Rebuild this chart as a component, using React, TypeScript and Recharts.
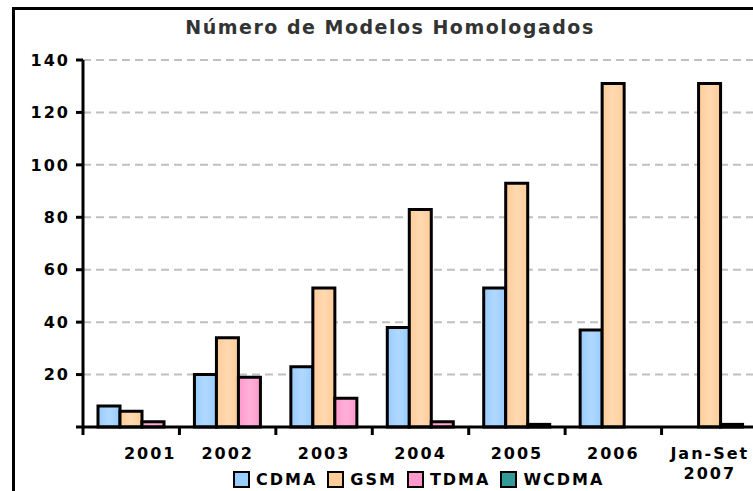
import { BarChart, Bar, XAxis, YAxis, CartesianGrid } from "recharts";

const categories = ["2001", "2002", "2003", "2004", "2005", "2006", "Jan-Set 2007"];
const cdma = [8, 20, 23, 38, 53, 37, 0];
const gsm = [6, 34, 53, 83, 93, 131, 131];
const tdma = [2, 19, 11, 2, 1, 0, 0];
const wcdma = [0, 0, 0, 0, 0, 0, 1];
const yTicks = [0, 20, 40, 60, 80, 100, 120, 140];

const series = [
  { key: "CDMA", color: "#99ccff", light: "#b0d8ff", stack: "a" },
  { key: "GSM", color: "#ffcc99", light: "#ffd9b0", stack: "b" },
  { key: "TDMA", color: "#ff99cc", light: "#ffb0d8", stack: "c" },
  { key: "WCDMA", color: "#339999", light: "#44aaaa", stack: "c" },
];

const data = categories.map((name, i) => ({
  name,
  CDMA: cdma[i],
  GSM: gsm[i],
  TDMA: tdma[i],
  WCDMA: wcdma[i],
}));

const W = 780;
const H = 491;
const M = { top: 60, right: 22, bottom: 24, left: 0 };
const Y_W = 83;
const BAND = (W - M.right - M.left - Y_W) / categories.length;
const FONT = "'DejaVu Sans', Verdana, sans-serif";

function XTick(props: any) {
  const { x, y, payload, index } = props;
  const lines = String(payload.value).split(" ");
  const shift = index === 0 ? 19 : 0;
  return (
    <g>
      <line
        x1={x - BAND / 2}
        x2={x - BAND / 2}
        y1={y - 10}
        y2={y - 2}
        stroke="#000"
        strokeWidth={3}
      />
      <text
        x={x + shift}
        y={y + 22}
        textAnchor="middle"
        fontFamily={FONT}
        fontWeight="bold"
        fontSize={16}
        letterSpacing={2}
        fill="#000"
      >
        {lines.map((l, i) => (
          <tspan key={i} x={x + shift} dy={i === 0 ? 0 : 20}>
            {l}
          </tspan>
        ))}
      </text>
    </g>
  );
}

function YTick(props: any) {
  const { x, y, payload } = props;
  if (payload.value === 0) return <g />;
  return (
    <text
      x={x - 4}
      y={y}
      dy="0.36em"
      textAnchor="end"
      fontFamily={FONT}
      fontWeight="bold"
      fontSize={16}
      letterSpacing={2}
      fill="#000"
    >
      {payload.value}
    </text>
  );
}

export default function App() {
  return (
    <div
      style={{
        position: "fixed",
        inset: 0,
        overflow: "hidden",
        background: "#fff",
        fontFamily: FONT,
      }}
    >
      <div
        style={{
          position: "absolute",
          left: 12,
          top: 7,
          width: 900,
          height: 900,
          borderLeft: "3px solid #000",
          borderTop: "3px solid #000",
        }}
      />
      <div
        style={{
          position: "absolute",
          left: 140,
          width: 500,
          top: 16,
          textAlign: "center",
          fontWeight: "bold",
          fontSize: 19,
          letterSpacing: 1.5,
          color: "#333",
          whiteSpace: "nowrap",
        }}
      >
        Número de Modelos Homologados
      </div>
      <div style={{ position: "absolute", left: 0, top: 0 }}>
        <BarChart width={W} height={H} data={data} margin={M} barGap={0} barCategoryGap={0}>
          <defs>
            {series.map((s) => (
              <linearGradient key={s.key} id={"g" + s.key} x1="0" y1="0" x2="1" y2="0">
                <stop offset="0%" stopColor={s.color} />
                <stop offset="50%" stopColor={s.light} />
                <stop offset="100%" stopColor={s.color} />
              </linearGradient>
            ))}
          </defs>
          <CartesianGrid
            vertical={false}
            stroke="#c0c0c0"
            strokeWidth={2}
            strokeDasharray="8 5"
          />
          <XAxis
            dataKey="name"
            interval={0}
            height={40}
            tickSize={8}
            tickLine={false}
            axisLine={{ stroke: "#000", strokeWidth: 3 }}
            tick={<XTick />}
          />
          <YAxis
            width={Y_W}
            domain={[0, 140]}
            ticks={yTicks}
            tickSize={7}
            axisLine={{ stroke: "#000", strokeWidth: 3 }}
            tickLine={{ stroke: "#000", strokeWidth: 3 }}
            tick={<YTick />}
          />
          {series.map((s) => (
            <Bar
              key={s.key}
              dataKey={s.key}
              stackId={s.stack}
              barSize={22}
              fill={"url(#g" + s.key + ")"}
              stroke="#000"
              strokeWidth={3}
              isAnimationActive={false}
            />
          ))}
        </BarChart>
      </div>
      <div
        style={{
          position: "absolute",
          left: 233,
          top: 471,
          display: "flex",
          alignItems: "center",
          gap: 10,
          fontWeight: "bold",
          fontSize: 16,
          letterSpacing: 2,
          lineHeight: "17px",
          color: "#000",
        }}
      >
        {series.map((s) => (
          <div key={s.key} style={{ display: "flex", alignItems: "center" }}>
            <div
              style={{
                width: 13,
                height: 13,
                border: "2px solid #000",
                background: s.color,
                marginRight: 6,
              }}
            />
            <span>{s.key}</span>
          </div>
        ))}
      </div>
    </div>
  );
}
